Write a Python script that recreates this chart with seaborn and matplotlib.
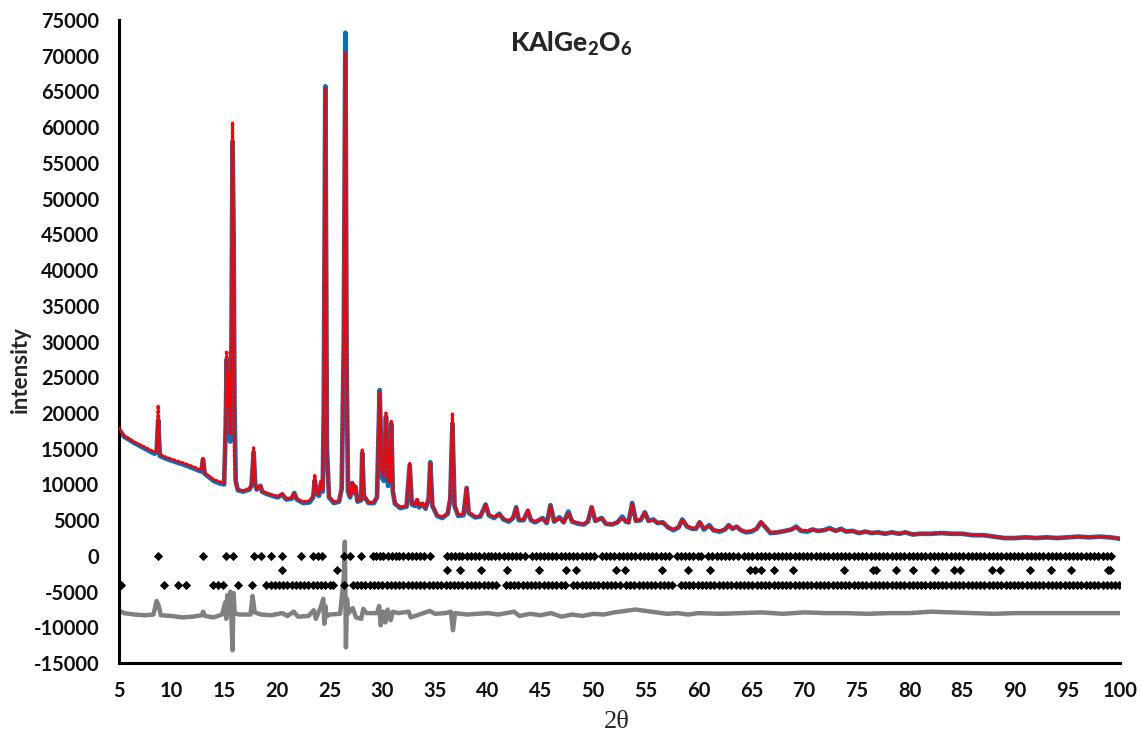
import matplotlib
matplotlib.use("Agg")
import matplotlib.pyplot as plt
import seaborn as sns
import pandas as pd

# ---------------- data ----------------
two_theta = [5.0, 5.5, 6.5, 7.5, 8.4, 8.6, 8.75, 8.9, 9.5, 10.5, 11.5, 12.5, 12.85, 13.0, 13.15,
             13.5, 14.0, 14.5, 15.0, 15.15, 15.25, 15.35, 15.45, 15.58, 15.7, 15.8, 15.9, 15.98, 16.1,
             16.3, 16.8, 17.4, 17.6, 17.8, 17.95, 18.1, 18.45, 18.6, 19.0, 19.6, 20.1, 20.5, 20.9,
             21.4, 21.65, 21.9, 22.5, 23.1, 23.45, 23.6, 23.75, 24.0, 24.2, 24.35, 24.45, 24.6, 24.75,
             24.95, 25.4, 25.9, 26.15, 26.35, 26.5, 26.62, 26.75, 26.95, 27.15, 27.3, 27.45, 27.65,
             28.0, 28.1, 28.25, 28.7, 29.2, 29.5, 29.75, 29.95, 30.15, 30.35, 30.55, 30.7, 30.85,
             31.0, 31.2, 31.7, 32.3, 32.6, 32.8, 33.1, 33.3, 33.5, 33.8, 34.1, 34.4, 34.55, 34.75,
             35.2, 35.7, 36.2, 36.45, 36.65, 36.85, 37.2, 37.7, 38.0, 38.2, 38.8, 39.3, 39.8, 40.1,
             40.6, 41.1, 41.5, 42.0, 42.4, 42.7, 42.95, 43.4, 43.8, 44.1, 44.5, 45.2, 45.6, 45.95,
             46.3, 46.8, 47.2, 47.65, 48.0, 48.6, 49.1, 49.5, 49.85, 50.2, 50.8, 51.2, 51.8, 52.3,
             52.75, 53.1, 53.35, 53.7, 54.05, 54.5, 54.9, 55.25, 55.7, 56.1, 56.6, 57.1, 57.6, 58.1,
             58.45, 58.9, 59.4, 59.75, 60.1, 60.5, 61.0, 61.4, 62.0, 62.5, 62.85, 63.2, 63.6, 64.0,
             64.5, 65.0, 65.5, 65.9, 66.4, 66.8, 67.5, 68.2, 68.8, 69.25, 69.7, 70.3, 70.8, 71.3,
             71.9, 72.4, 73.0, 73.5, 74.0, 74.6, 75.2, 75.8, 76.4, 77.0, 77.7, 78.3, 79.0, 79.6,
             80.3, 81.0, 82.0, 83.0, 84.0, 85.0, 86.0, 87.0, 88.0, 89.0, 90.0, 91.0, 92.0, 93.0,
             94.0, 95.0, 96.0, 97.0, 98.0, 99.0, 100.0]

observed = [17800, 16700, 15800, 15000, 14300, 14500, 19000, 14000, 13600, 13100, 12600, 12000, 11800, 13500, 11500,
            11100, 10500, 10200, 10000, 18000, 27500, 20000, 26000, 16000, 30000, 58000, 45000, 21500, 10500,
            9200, 9000, 9300, 9800, 14500, 10000, 9300, 9800, 9000, 8700, 8400, 8200, 8600, 7900,
            8000, 8800, 7900, 7400, 7500, 8200, 10600, 8800, 8400, 10300, 9000, 20000, 65700, 15000,
            8200, 7400, 7600, 9400, 30000, 73200, 26000, 9000, 8200, 10200, 8800, 9700, 7600,
            7800, 14400, 8400, 7400, 7400, 8200, 23200, 11000, 10500, 19500, 9800, 10000, 18500,
            9000, 7300, 6700, 6900, 12700, 7200, 7000, 7800, 6800, 7300, 6600, 8000, 13100, 7000,
            5600, 5300, 5900, 8000, 18500, 7000, 5600, 5700, 9500, 6000, 5400, 5500, 7200, 5700,
            5300, 5900, 5100, 4800, 5300, 6800, 5000, 5000, 6300, 5000, 4700, 5300, 4600, 7100,
            4800, 5400, 4700, 6200, 4800, 4500, 4400, 4800, 6800, 4900, 5300, 4500, 4400, 4700,
            5500, 4800, 4700, 7400, 4900, 5000, 6100, 4900, 5100, 4600, 4700, 4000, 3600, 4000,
            5100, 4100, 3800, 3800, 4700, 3700, 4300, 3600, 3400, 3700, 4300, 3800, 4100, 3600,
            3300, 3400, 3800, 4700, 3900, 3200, 3300, 3500, 3700, 4100, 3500, 3400, 3700, 3500,
            3600, 3900, 3500, 3800, 3400, 3500, 3200, 3400, 3200, 3300, 3100, 3300, 3100, 3300,
            3000, 3100, 3100, 3200, 3100, 3100, 2900, 2900, 2700, 2500, 2500, 2600, 2500, 2600,
            2500, 2600, 2700, 2600, 2700, 2600, 2400]

calculated = [17900, 16800, 15900, 15200, 14500, 14700, 21100, 14200, 13800, 13300, 12800, 12200, 12000, 13800, 11700,
              11200, 10700, 10400, 10200, 19000, 28700, 21000, 25500, 17000, 32000, 60700, 45000, 14000, 10000,
              9300, 9100, 9400, 10000, 15200, 10200, 9300, 9900, 9000, 8800, 8500, 8300, 8700, 8000,
              8100, 8800, 7900, 7600, 7700, 8400, 11400, 9000, 8600, 10600, 9200, 22000, 65500, 14000,
              8300, 7500, 7700, 9600, 32000, 70500, 27000, 9500, 8300, 10200, 8800, 9800, 7700,
              7900, 14800, 8500, 7400, 7500, 8300, 23000, 12000, 11000, 20000, 10500, 10300, 19000,
              9200, 7400, 6800, 7000, 13000, 7300, 7100, 7900, 6900, 7400, 6700, 8200, 13000, 7100,
              5700, 5400, 6000, 8500, 20000, 7200, 5700, 5800, 9600, 6100, 5500, 5600, 7100, 5800,
              5400, 5800, 5200, 4900, 5300, 6700, 5100, 5000, 6400, 5000, 4800, 5200, 4600, 7100,
              4800, 5300, 4700, 6000, 4800, 4600, 4400, 4800, 6900, 4900, 5300, 4500, 4400, 4700,
              5300, 4800, 4700, 7300, 4900, 5100, 6000, 4900, 5000, 4600, 4700, 4000, 3700, 4000,
              5100, 4100, 3900, 3800, 4800, 3800, 4200, 3600, 3500, 3700, 4300, 3800, 4100, 3600,
              3400, 3500, 3800, 4800, 3900, 3300, 3300, 3500, 3700, 4000, 3600, 3500, 3700, 3500,
              3600, 3800, 3500, 3700, 3400, 3500, 3200, 3400, 3200, 3300, 3100, 3300, 3100, 3300,
              3000, 3100, 3100, 3200, 3100, 3100, 2900, 2900, 2700, 2500, 2500, 2600, 2500, 2600,
              2500, 2600, 2700, 2600, 2700, 2600, 2400]

diff_theta = [5.0, 5.5, 6.5, 7.5, 8.3, 8.6, 8.8, 9.0, 10.0, 11.0, 12.0, 12.9, 13.0, 13.2, 14.0, 14.8,
              15.1, 15.2, 15.3, 15.45, 15.6, 15.8, 15.9, 16.0, 16.4, 17.5, 17.7, 17.9, 18.5, 19.5,
              20.5, 21.0, 21.6, 22.0, 23.0, 23.5, 23.7, 24.2, 24.4, 24.5, 24.6, 24.7, 25.0, 26.0,
              26.35, 26.45, 26.55, 26.65, 26.8, 27.2, 27.5, 28.0, 28.2, 28.5, 29.5, 29.7, 29.85,
              30.1, 30.3, 30.5, 30.8, 31.0, 31.5, 32.5, 32.7, 33.5, 34.5, 35.0, 36.0, 36.5, 36.7,
              36.9, 38.0, 39.0, 40.0, 41.0, 42.5, 43.0, 44.0, 45.0, 46.0, 47.0, 48.0, 49.0, 50.0,
              51.0, 52.0, 53.0, 54.0, 55.0, 56.0, 57.0, 58.0, 59.0, 60.0, 62.0, 64.0, 66.0, 68.0,
              70.0, 72.0, 74.0, 76.0, 78.0, 80.0, 82.0, 84.0, 86.0, 88.0, 90.0, 95.0, 100.0]

difference = [-7600, -8000, -8200, -8300, -8200, -6300, -7000, -8300, -8400, -8600, -8500, -8300, -7800, -8400, -8600, -8200,
              -6500, -8800, -5500, -8000, -5000, -13200, -5200, -8000, -8200, -8200, -5600, -7900, -8200, -8300,
              -8000, -8400, -7800, -8500, -8400, -7600, -8800, -7000, -6000, -9500, -7000, -8500, -8200, -8100,
              -3000, 2000, -12800, -6000, -8000, -7300, -8600, -8800, -7400, -8000, -8000, -7000, -9700,
              -7800, -9300, -7500, -9000, -7800, -8000, -7800, -8600, -8200, -7700, -8100, -8000, -7800, -10400,
              -8000, -8200, -8100, -8000, -8200, -7800, -8400, -8100, -8300, -8000, -8500, -8200, -8400, -8100,
              -8200, -7900, -7700, -7500, -7700, -7900, -8100, -8000, -8200, -8000, -8100, -8000, -7900, -8100,
              -7900, -8000, -8000, -8100, -8000, -8000, -7800, -7900, -8000, -8100, -8000, -8000, -8000]

# Bragg reflection positions (three phases) and the level each row is drawn at
phase1_pos = [8.7, 13.0, 15.2, 15.8, 17.8, 18.5, 19.4, 20.5, 22.3, 23.4, 23.9, 24.3, 26.4, 26.9, 28.0,
              29.1, 29.4, 29.8, 30.1, 30.5, 30.9, 31.3, 31.6, 32.0, 32.4, 32.8, 33.2, 33.6, 34.0, 34.5,
              36.1, 36.5, 36.9, 37.3, 37.6, 38.0, 38.4, 38.8, 39.2, 39.6, 40.0, 40.3, 40.7, 41.1, 41.5,
              41.9, 42.3, 42.7, 43.1, 43.5, 44.2, 44.6, 45.0, 45.3, 45.7, 46.1, 46.5, 46.9, 47.3, 47.7,
              48.1, 48.5, 48.9, 49.3, 49.7, 50.1, 50.8, 51.2, 51.6, 52.0, 52.4, 52.8, 53.2, 53.6, 54.0,
              54.4, 54.8, 55.2, 55.6, 56.0, 56.4, 56.8, 57.2, 57.9, 58.3, 58.7, 59.1, 59.5, 59.9, 60.2,
              60.9, 61.3, 61.7, 62.1, 62.5, 62.9, 63.3, 63.7, 64.3, 64.7, 65.1, 65.5, 65.9, 66.3, 66.7,
              67.1, 67.5, 67.9, 68.3, 68.7, 69.1, 69.5, 69.9, 70.3, 70.7, 71.1, 71.5, 71.9, 72.3, 72.7,
              73.1, 73.5, 73.9, 74.3, 74.7, 75.1, 75.5, 75.9, 76.3, 76.7, 77.1, 77.5, 77.9, 78.3, 78.7,
              79.1, 79.5, 79.9, 80.3, 80.7, 81.1, 81.5, 81.9, 82.3, 82.7, 83.1, 83.5, 83.9, 84.3, 84.7,
              85.1, 85.5, 85.9, 86.3, 86.7, 87.1, 87.5, 87.9, 88.3, 88.7, 89.1, 89.5, 89.9, 90.3, 90.7,
              91.1, 91.5, 91.9, 92.3, 92.7, 93.1, 93.5, 93.9, 94.3, 94.7, 95.1, 95.5, 95.9, 96.3, 96.7,
              97.1, 97.5, 97.9, 98.3, 98.7, 99.1]
phase2_pos = [20.5, 25.7, 36.1, 37.4, 39.4, 41.8, 44.9, 47.4, 48.4, 52.2, 53.0, 56.5, 59.0, 61.1, 64.9,
              65.3, 65.9, 67.1, 68.9, 73.8, 76.5, 76.8, 78.7, 80.3, 82.4, 84.2, 84.8, 87.8, 88.6, 91.4,
              93.4, 95.3, 98.8, 99.0]
phase3_pos = [5.2, 9.3, 10.6, 11.4, 13.9, 14.4, 14.9, 16.3, 17.6, 19.0, 19.4, 19.8, 20.2, 20.6, 21.0,
              21.4, 21.8, 22.2, 22.6, 23.0, 23.4, 23.8, 24.2, 24.6, 25.0, 25.3, 26.4, 27.2, 27.6, 28.0,
              28.4, 28.8, 29.2, 29.6, 30.0, 30.4, 30.8, 31.2, 31.6, 32.0, 32.4, 32.8, 33.2, 33.6, 34.0,
              34.4, 34.8, 35.2, 35.6, 36.0, 36.4, 36.8, 37.2, 37.6, 38.0, 38.4, 38.8, 39.2, 39.6, 40.0,
              40.4, 40.8, 41.7, 42.1, 42.5, 42.9, 43.3, 43.7, 44.1, 44.5, 44.9, 45.3, 45.7, 46.1, 46.5,
              46.9, 47.3, 48.1, 48.5, 48.9, 49.3, 49.7, 50.1, 50.5, 50.9, 51.3, 51.7, 52.1, 52.5, 53.1,
              53.5, 53.9, 54.3, 54.7, 55.1, 55.5, 55.9, 56.3, 56.7, 57.1, 57.5, 58.3, 58.7, 59.1, 59.5,
              59.9, 60.3, 60.7, 61.1, 61.5, 61.9, 62.3, 62.7, 63.1, 63.5, 63.9, 64.3, 64.7, 65.1, 65.5,
              65.9, 66.3, 66.7, 67.1, 67.5, 67.9, 68.3, 68.7, 69.1, 69.5, 69.9, 70.3, 70.7, 71.1, 71.5,
              71.9, 72.3, 72.7, 73.1, 73.5, 73.9, 74.3, 74.7, 75.1, 75.5, 75.9, 76.3, 76.7, 77.1, 77.5,
              77.9, 78.3, 78.7, 79.1, 79.5, 79.9, 80.3, 80.7, 81.1, 81.5, 81.9, 82.3, 82.7, 83.1, 83.5,
              83.9, 84.3, 84.7, 85.1, 85.5, 85.9, 86.3, 86.7, 87.1, 87.5, 87.9, 88.3, 88.7, 89.1, 89.5,
              89.9, 90.3, 90.7, 91.1, 91.5, 91.9, 92.3, 92.7, 93.1, 93.5, 93.9, 94.3, 94.7, 95.1, 95.5,
              95.9, 96.3, 96.7, 97.1, 97.5, 97.9, 98.3, 98.7, 99.1, 99.5, 99.9]
phase_levels = [0, -2000, -4000]

x_ticks = [5, 10, 15, 20, 25, 30, 35, 40, 45, 50, 55, 60, 65, 70, 75, 80, 85, 90, 95, 100]
y_ticks = [-15000, -10000, -5000, 0, 5000, 10000, 15000, 20000, 25000, 30000, 35000,
           40000, 45000, 50000, 55000, 60000, 65000, 70000, 75000]

title_text = r"$\mathbf{KAlGe_2O_6}$"
x_label = "2θ"
y_label = "intensity"

# ---------------- styling ----------------
sns.set_theme(style="white")
plt.rcParams["font.family"] = ["Lato", "DejaVu Sans"]
plt.rcParams["mathtext.fontset"] = "custom"
plt.rcParams["mathtext.rm"] = "Lato:bold"
plt.rcParams["mathtext.bf"] = "Lato:black"

fig = plt.figure(figsize=(11.41, 7.36), dpi=100)
ax = fig.add_axes([0.104, 0.099, 0.878, 0.874])

df_profile = pd.DataFrame({"tt": two_theta, "obs": observed, "calc": calculated})
df_diff = pd.DataFrame({"tt": diff_theta, "diff": difference})

sns.lineplot(data=df_profile, x="tt", y="obs", ax=ax, color="#0070C0", lw=3.4,
             estimator=None, sort=False, zorder=2)
sns.lineplot(data=df_profile, x="tt", y="calc", ax=ax, color="#FF0000", lw=2.3,
             linestyle=(0, (0.4, 1.0)), dash_capstyle="round",
             estimator=None, sort=False, zorder=3)
sns.lineplot(data=df_diff, x="tt", y="diff", ax=ax, color="#808080", lw=3.2,
             estimator=None, sort=False, zorder=2)

for pos, lev in zip([phase1_pos, phase2_pos, phase3_pos], phase_levels):
    dfp = pd.DataFrame({"tt": pos, "lev": [lev] * len(pos)})
    sns.scatterplot(data=dfp, x="tt", y="lev", ax=ax, marker="D", s=22,
                    color="black", edgecolor="black", linewidth=0, zorder=4)

ax.set_xlim(5, 100)
ax.set_ylim(-15000, 75000)
ax.set_xticks(x_ticks)
ax.set_yticks(y_ticks)
ax.set_xticklabels([str(v) for v in x_ticks])
ax.set_yticklabels([str(v) for v in y_ticks])
ax.tick_params(axis="both", length=0, labelsize=14.5, colors="#111111")
ax.tick_params(axis="y", pad=14)
ax.tick_params(axis="x", pad=13)
for lab in ax.get_xticklabels() + ax.get_yticklabels():
    lab.set_fontweight("bold")

for side in ["top", "right"]:
    ax.spines[side].set_visible(False)
for side in ["left", "bottom"]:
    ax.spines[side].set_color("black")
    ax.spines[side].set_linewidth(2.2)

ax.set_xlabel(x_label, fontsize=19, family=["Liberation Serif", "DejaVu Serif"])
ax.xaxis.set_label_coords(0.497, -0.074)
ax.set_ylabel(y_label, fontsize=16, fontweight="bold")
ax.yaxis.set_label_coords(-0.088, 0.456)

ax.text(0.452, 0.962, title_text, transform=ax.transAxes, ha="center", va="center",
        fontsize=19)

fig.savefig("out.png", dpi=100)
